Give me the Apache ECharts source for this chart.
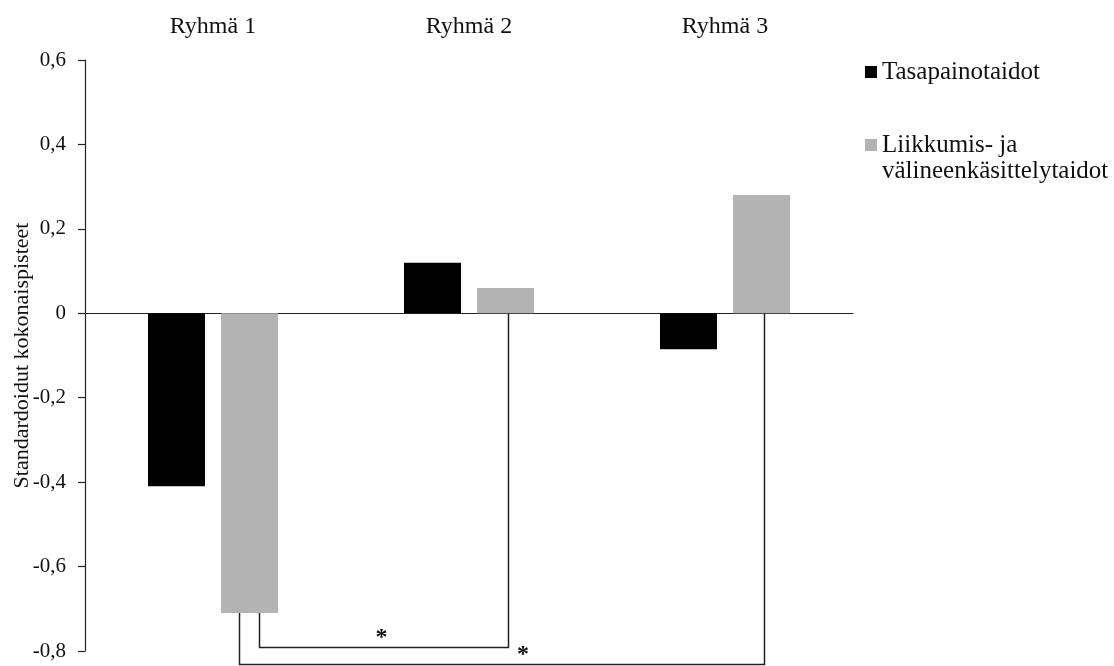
<!DOCTYPE html>
<html>
<head>
<meta charset="utf-8">
<script src="https://cdn.jsdelivr.net/npm/echarts@6/dist/echarts.min.js"></script>
<style>
html,body{margin:0;padding:0;background:#fff;}
#chart{width:1114px;height:666px;}
</style>
</head>
<body>
<div id="chart"></div>
<script>
// ---- data ----
const categories = ['Ryhmä 1', 'Ryhmä 2', 'Ryhmä 3'];
const seriesNames = ['Tasapainotaidot', 'Liikkumis- ja\nvälineenkäsittelytaidot'];
const balanceValues = [-0.41, 0.12, -0.085];
const motorValues = [-0.71, 0.06, 0.28];
const tickLabels = ['-0,8', '-0,6', '-0,4', '-0,2', '0', '0,2', '0,4', '0,6'];
const yMin = -0.8, yMax = 0.6, yStep = 0.2;
const yAxisName = 'Standardoidut kokonaispisteet';
// significance brackets: [from group, to group], bracket level (value units), marker
const bracketPairs = [[0, 1], [0, 2]];
const bracketLevels = [-0.792, -0.832];
const bracketMarks = ['*', '*'];

// ---- layout / style constants ----
const FONT = 'Liberation Serif';
const BAR_W = 57;
const BAR_GAP_PX = 16;
const LEFT_OFF = [10, -10];
const RIGHT_OFF = 3;
const MARK_T = [0.49, 0.54];

const chart = echarts.init(document.getElementById('chart'));

const bracketData = bracketPairs.map((p, i) => [p[0], p[1], bracketLevels[i], motorValues[p[0]]]);

chart.setOption({
  animation: false,
  backgroundColor: '#fff',
  grid: { left: 85, right: 261, top: 60, bottom: 15, containLabel: false, outerBoundsMode: 'none' },
  legend: {
    orient: 'vertical',
    left: 865,
    top: 59,
    padding: 0,
    itemWidth: 12,
    itemHeight: 12,
    itemGap: 21,
    icon: 'rect',
    selectedMode: false,
    textStyle: { fontFamily: FONT, fontSize: 25, lineHeight: 26, color: '#111' },
    formatter: name => (name.indexOf('\n') >= 0 ? '\n' + name : name),
    data: seriesNames
  },
  xAxis: [
    {
      type: 'category',
      data: categories,
      position: 'bottom',
      axisLine: { onZero: true, lineStyle: { color: '#222', width: 1.2 } },
      axisTick: { show: false },
      axisLabel: { show: false },
      splitLine: { show: false }
    },
    {
      type: 'category',
      data: categories,
      position: 'top',
      axisLine: { show: false },
      axisTick: { show: false },
      axisLabel: {
        show: true, margin: 33, verticalAlign: 'middle',
        fontFamily: FONT, fontSize: 24, color: '#111'
      },
      splitLine: { show: false }
    }
  ],
  yAxis: {
    type: 'value',
    min: yMin,
    max: yMax,
    interval: yStep,
    name: yAxisName,
    nameLocation: 'middle',
    nameRotate: 90,
    nameGap: 52,
    nameMoveOverlap: false,
    nameTextStyle: { fontFamily: FONT, fontSize: 22, color: '#111' },
    axisLine: { show: true, lineStyle: { color: '#222', width: 1.2 } },
    axisTick: { show: true, length: 7, lineStyle: { color: '#222', width: 1.2 } },
    axisLabel: {
      margin: 19,
      fontFamily: FONT, fontSize: 21, color: '#111',
      formatter: v => tickLabels[Math.round((v - yMin) / yStep)]
    },
    splitLine: { show: false }
  },
  series: [
    {
      name: seriesNames[0],
      type: 'bar',
      xAxisIndex: 0,
      data: balanceValues,
      barWidth: BAR_W,
      barGap: (BAR_GAP_PX / BAR_W * 100).toFixed(1) + '%',
      itemStyle: { color: '#000000' }
    },
    {
      name: seriesNames[1],
      type: 'bar',
      xAxisIndex: 0,
      data: motorValues,
      barWidth: BAR_W,
      barGap: (BAR_GAP_PX / BAR_W * 100).toFixed(1) + '%',
      itemStyle: { color: '#b3b3b3' }
    },
    {
      type: 'custom',
      xAxisIndex: 0,
      clip: false,
      silent: true,
      z: 5,
      encode: { x: 0, y: 2 },
      data: bracketData,
      renderItem: function (params, api) {
        const i = params.dataIndex;
        const from = api.value(0), to = api.value(1), level = api.value(2), startV = api.value(3);
        const grayOff = (BAR_W + BAR_GAP_PX) / 2;
        const p0 = api.coord([from, startV]);
        const pL = api.coord([from, level]);
        const p1 = api.coord([to, 0]);
        const x0 = p0[0] + grayOff + LEFT_OFF[i];
        const x1 = p1[0] + grayOff + RIGHT_OFF;
        return {
          type: 'group',
          children: [
            {
              type: 'polyline',
              shape: { points: [[x0, p0[1]], [x0, pL[1]], [x1, pL[1]], [x1, p1[1]]] },
              style: { stroke: '#222', lineWidth: 1.5, fill: null }
            },
            {
              type: 'text',
              style: {
                text: bracketMarks[i],
                x: x0 + (x1 - x0) * MARK_T[i],
                y: pL[1] - 10,
                align: 'center', verticalAlign: 'middle',
                fontFamily: FONT, fontSize: 24, fontWeight: 'bold', fill: '#111'
              }
            }
          ]
        };
      }
    }
  ]
});
</script>
</body>
</html>
